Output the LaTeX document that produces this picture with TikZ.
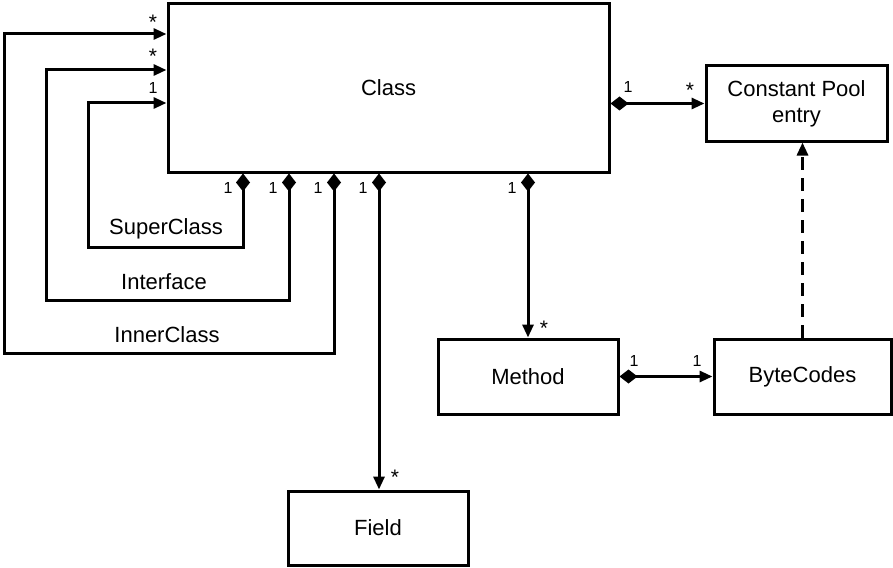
\documentclass[tikz,border=0pt]{standalone}
\usepackage{fontspec}
\setmainfont{Liberation Sans}
\usetikzlibrary{arrows.meta}
\begin{document}
\begin{tikzpicture}[x=1pt,y=-1pt,
  box/.style={draw,line width=3pt,inner sep=0pt,align=center,
    font=\fontsize{22}{26}\selectfont},
  link/.style={line width=3pt},
  comp/.style={link,{Diamond[length=18pt,width=14pt]}-{Triangle[length=13pt,width=11pt]}},
  dep/.style={link,dash pattern=on 13pt off 8pt,-{Triangle[length=13pt,width=11pt]}},
  mult/.style={font=\fontsize{16}{18}\selectfont,inner sep=0pt},
  star/.style={font=\fontsize{21}{22}\selectfont,inner sep=0pt},
  role/.style={font=\fontsize{22}{24}\selectfont,inner sep=0pt}]
\useasboundingbox (0,0) rectangle (893,567);

% classes
\node[box,minimum width=441pt,minimum height=168pt] (cls) at (388.5,88) {Class};
\node[box,minimum width=181pt,minimum height=75pt] (cpe) at (796.5,103.5) {Constant Pool\\entry};
\node[box,minimum width=180pt,minimum height=75pt] (mth) at (528,376.5) {Method};
\node[box,minimum width=177pt,minimum height=75pt] (bc) at (802.5,376.5) {ByteCodes};
\node[box,minimum width=180pt,minimum height=74pt] (fld) at (378,528) {Field};

% corner points of the self associations
\coordinate (supC) at (243,247);
\coordinate (supL) at (88,103);
\coordinate (ifcC) at (289,300);
\coordinate (ifcL) at (46,70);
\coordinate (innC) at (334,353);
\coordinate (innL) at (4,34);
\coordinate (fldX) at (379,0);
\coordinate (mthX) at (528,0);

% self associations of Class
\draw[comp] (supC |- cls.south) -- (supC) -| (supL) -- (supL -| cls.west);
\draw[comp] (ifcC |- cls.south) -- (ifcC) -| (ifcL) -- (ifcL -| cls.west);
\draw[comp] (innC |- cls.south) -- (innC) -| (innL) -- (innL -| cls.west);

% other compositions
\draw[comp] (fldX |- cls.south) -- (fldX |- fld.north);
\draw[comp] (mthX |- cls.south) -- (mthX |- mth.north);
\draw[comp] (cls.east |- cpe.west) -- (cpe.west);
\draw[comp] (mth.east) -- (bc.west);
\draw[dep] (bc.north) -- (bc.north |- cpe.south);

% role names
\node[role] (lsup) at (166,229) {SuperClass};
\node[role] (lifc) at (164,282) {Interface};
\node[role] (linn) at (167,335) {InnerClass};

% multiplicities
\node[star] (m1) at (153,22) {*};
\node[star] (m2) at (153,56) {*};
\node[mult] (m3) at (153,88) {1};
\node[mult] (m4) at (228,188) {1};
\node[mult] (m5) at (273,188) {1};
\node[mult] (m6) at (318,188) {1};
\node[mult] (m7) at (363,188) {1};
\node[mult] (m8) at (512,188) {1};
\node[mult] (m9) at (628,87) {1};
\node[star] (m10) at (690,90) {*};
\node[star] (m11) at (544,328) {*};
\node[star] (m12) at (395,477) {*};
\node[mult] (m13) at (634,361) {1};
\node[mult] (m14) at (697,361) {1};
\end{tikzpicture}
\end{document}
